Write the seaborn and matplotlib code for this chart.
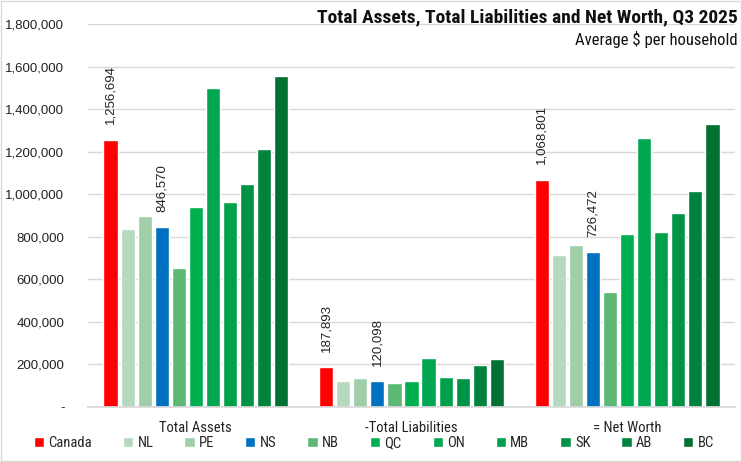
import matplotlib
matplotlib.use("Agg")
import matplotlib.pyplot as plt
import matplotlib.font_manager as fm
from matplotlib.patches import Rectangle
from matplotlib.ticker import FuncFormatter
import seaborn as sns
import pandas as pd

measures = ["Total Assets", "-Total Liabilities", "= Net Worth"]
regions = ["Canada", "NL", "PE", "NS", "NB", "QC", "ON", "MB", "SK", "AB", "BC"]
total_assets = [1256694, 835000, 896000, 846570, 652000, 939000, 1497000, 962000, 1047000, 1211000, 1554000]
total_liabilities = [187893, 122000, 136000, 120098, 113000, 124000, 230000, 141000, 136000, 197000, 225000]
net_worth = [1068801, 713000, 760000, 726472, 539000, 815000, 1265000, 821000, 911000, 1014000, 1329000]
colors = ["#FF0000", "#B4D9BE", "#9FCEA8", "#0070C0", "#5DB875", "#00B050",
          "#00A651", "#00A04A", "#009245", "#00833D", "#007033"]
labelled = ["Canada", "NS"]
title = "Total Assets, Total Liabilities and Net Worth, Q3 2025"
subtitle = "Average $ per household"

rows = []
for m, vals in zip(measures, [total_assets, total_liabilities, net_worth]):
    for r, v in zip(regions, vals):
        rows.append({"measure": m, "region": r, "value": v})
df = pd.DataFrame(rows)

sns.set_theme(style="white")


def pick(names):
    for n in names:
        try:
            fm.findfont(fm.FontProperties(family=n), fallback_to_default=False)
            return n
        except Exception:
            continue
    return "DejaVu Sans"


narrow = pick(["Liberation Sans Narrow", "Roboto Condensed", "Liberation Sans"])
plain = pick(["Liberation Sans", "DejaVu Sans"])
plt.rcParams["font.family"] = [plain, "DejaVu Sans"]

fig = plt.figure(figsize=(7.42, 4.62), dpi=100)
ax = fig.add_axes([88 / 742, 1 - 407 / 462, (735 - 88) / 742, (407 - 24) / 462])

sns.barplot(data=df, x="measure", y="value", hue="region", order=measures,
            hue_order=regions, palette=colors, width=0.87, gap=0.17,
            saturation=1, ax=ax, legend=False, errorbar=None)

ax.set_ylim(0, 1800000)
ax.set_yticks(range(0, 1800001, 200000))
ax.yaxis.set_major_formatter(FuncFormatter(lambda v, p: "-" if v == 0 else f"{v:,.0f}"))
ax.grid(axis="y", color="#D9D9D9", linewidth=1)
ax.set_axisbelow(True)
for s in ["left", "right", "top"]:
    ax.spines[s].set_visible(False)
ax.spines["bottom"].set_color("#D9D9D9")
ax.tick_params(axis="y", length=0, pad=17, labelsize=9.5, labelcolor="#222222")
ax.tick_params(axis="x", length=0, pad=10)
ax.set_xlabel("")
ax.set_ylabel("")
for t in ax.get_xticklabels():
    t.set_fontfamily([narrow, "DejaVu Sans"])
    t.set_fontsize(10.5)
    t.set_color("#222222")

for r, cont in zip(regions, ax.containers):
    if r in labelled:
        ax.bar_label(cont, labels=[f"{b.get_height():,.0f}" for b in cont],
                     rotation=90, padding=11, fontsize=9.5, color="#222222")

fig.text(738 / 742, 1 - 17 / 462, title, ha="right", va="center", fontsize=14,
         fontweight="bold", family=[narrow, "DejaVu Sans"], color="#111111")
fig.text(738 / 742, 1 - 39 / 462, subtitle, ha="right", va="center", fontsize=12,
         family=[narrow, "DejaVu Sans"], color="#111111")

handles = [Rectangle((0, 0), 1, 1, facecolor=c) for c in colors]
fig.legend(handles, regions, loc="center", bbox_to_anchor=(374 / 742, 1 - 443 / 462),
           ncol=11, frameon=False, handlelength=0.7, handleheight=0.7,
           handletextpad=0.3, columnspacing=2.12,
           prop={"family": [narrow, "DejaVu Sans"], "size": 10.5})

fig.patches.append(Rectangle((0.001, 0.002), 0.997, 0.996, transform=fig.transFigure,
                             fill=False, edgecolor="#D9D9D9", linewidth=1))

fig.savefig("out.png", dpi=100)
